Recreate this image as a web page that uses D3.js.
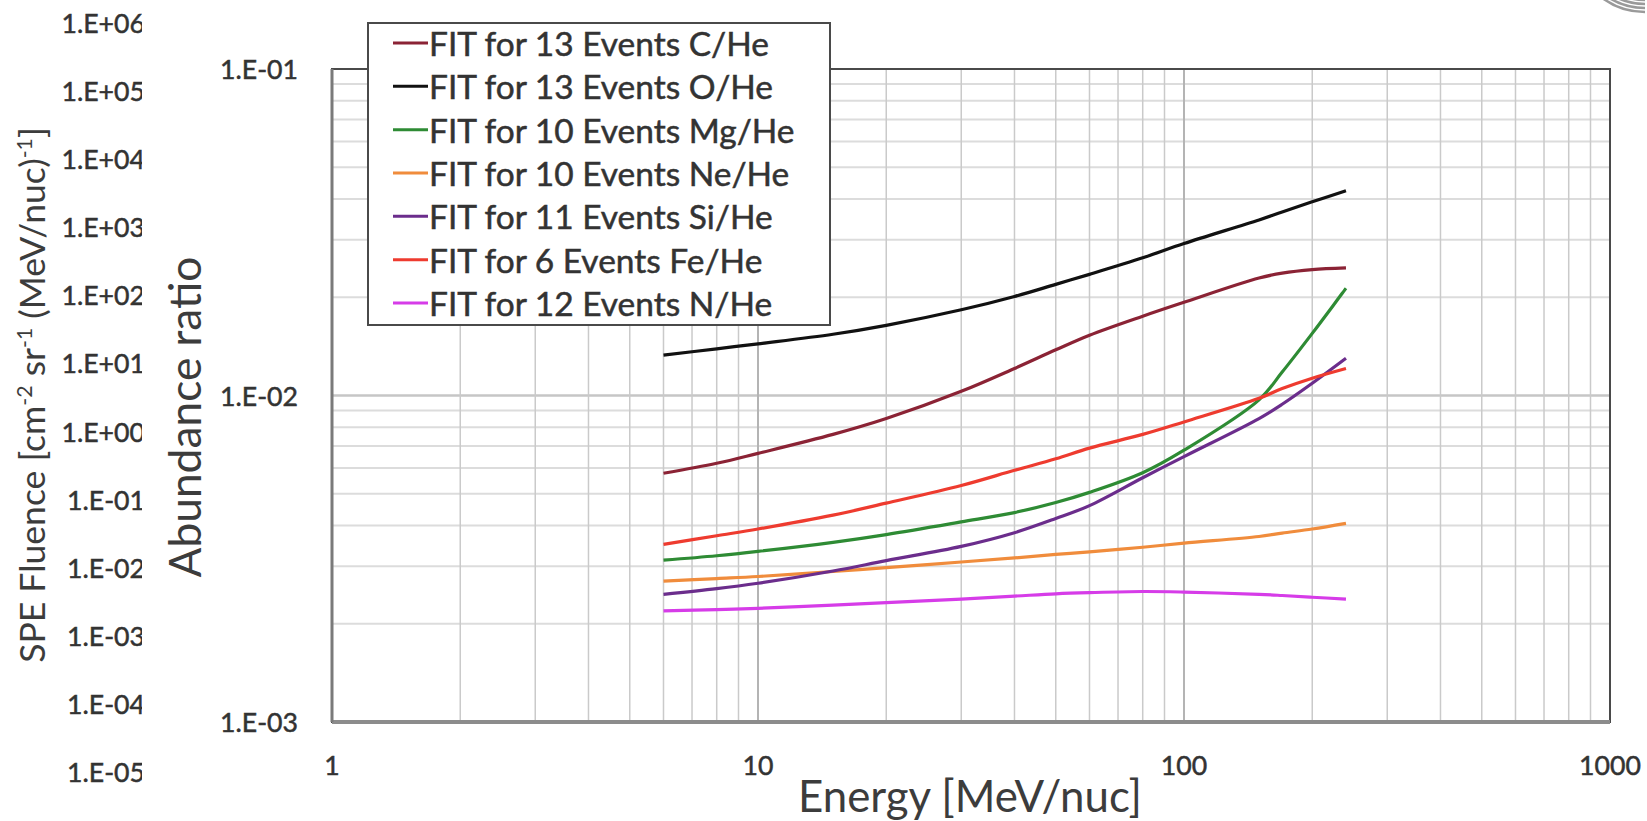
<!DOCTYPE html>
<html>
<head>
<meta charset="utf-8">
<script src="https://cdn.jsdelivr.net/npm/d3@7"></script>
<style>
  html, body { margin: 0; padding: 0; background: #fff; }
  svg { display: block; }
  text { font-family: Lato, "Open Sans", "Noto Sans", sans-serif; }
</style>
</head>
<body>
<svg id="chart" width="1647" height="821"></svg>
<script>
// Energy grid (MeV/nuc) shared by all fitted ratios
const energies = [6, 8, 10, 15, 20, 30, 40, 50, 60, 80, 100, 150, 170, 200, 240];

// Fitted abundance ratios relative to He
const cHe  = [0.00578, 0.0062, 0.00665, 0.0076, 0.0085, 0.0103, 0.0121, 0.0138, 0.0153, 0.0175, 0.0193, 0.0229, 0.0237, 0.0243, 0.0246];
const oHe  = [0.0133, 0.0139, 0.0144, 0.0154, 0.0164, 0.0183, 0.0201, 0.0219, 0.0235, 0.0264, 0.0292, 0.0345, 0.0365, 0.0392, 0.0424];
const mgHe = [0.00313, 0.00323, 0.00333, 0.00355, 0.00375, 0.0041, 0.00438, 0.0047, 0.00505, 0.0058, 0.0068, 0.0097, 0.0118, 0.0155, 0.0213];
const neHe = [0.0027, 0.00275, 0.00279, 0.00289, 0.00297, 0.00309, 0.00318, 0.00326, 0.00332, 0.00343, 0.00353, 0.0037, 0.00379, 0.0039, 0.00406];
const siHe = [0.00246, 0.00256, 0.00266, 0.0029, 0.00312, 0.00345, 0.0038, 0.0042, 0.0046, 0.0056, 0.0065, 0.0085, 0.0094, 0.0109, 0.0130];
const feHe = [0.0035, 0.00372, 0.0039, 0.0043, 0.00468, 0.0053, 0.0059, 0.0064, 0.0069, 0.0076, 0.0083, 0.0098, 0.0105, 0.0113, 0.0121];
const nHe  = [0.00219, 0.00221, 0.00223, 0.00228, 0.00232, 0.00238, 0.00243, 0.00247, 0.00249, 0.00251, 0.0025, 0.00246, 0.00244, 0.00241, 0.00238];

const seriesNames = [
  "FIT for 13 Events C/He",
  "FIT for 13 Events O/He",
  "FIT for 10 Events Mg/He",
  "FIT for 10 Events Ne/He",
  "FIT for 11 Events Si/He",
  "FIT for 6 Events Fe/He",
  "FIT for 12 Events N/He"
];
const seriesValues = [cHe, oHe, mgHe, neHe, siHe, feHe, nHe];
const seriesColors = ["#8b2335", "#111111", "#2e8b34", "#f08c3c", "#6b2d8c", "#ee3b2f", "#d63ce8"];

// Axis tick labels
const xTickValues = [1, 10, 100, 1000];
const xTickLabels = ["1", "10", "100", "1000"];
const yTickValues = [0.1, 0.01, 0.001];
const yTickLabels = ["1.E-01", "1.E-02", "1.E-03"];
// Fluence scale labels printed along the far left
const fluenceLabels = ["1.E+06", "1.E+05", "1.E+04", "1.E+03", "1.E+02", "1.E+01",
                       "1.E+00", "1.E-01", "1.E-02", "1.E-03", "1.E-04", "1.E-05"];

const svg = d3.select("#chart");
const plot = { left: 332, right: 1610, top: 69, bottom: 722 };

const x = d3.scaleLog().domain([1, 1000]).range([plot.left, plot.right]);
const y = d3.scaleLog().domain([0.001, 0.1]).range([plot.bottom, plot.top]);

// Scale a text element's font size so that it spans the given width
function fitWidth(sel, target) {
  const w = sel.node().getComputedTextLength();
  const fs = parseFloat(sel.attr("font-size"));
  const nfs = fs * target / w;
  sel.attr("font-size", nfs);
  return nfs;
}

// Gridlines
const grid = svg.append("g");
const minorX = [], majorX = [10, 100];
[1, 10, 100].forEach(d => { for (let k = 2; k <= 9; k++) minorX.push(d * k); });
const minorY = [], majorY = [0.01];
[0.001, 0.01].forEach(d => { for (let k = 2; k <= 9; k++) minorY.push(d * k); });

grid.selectAll(".hmin").data(minorY).join("line")
  .attr("x1", plot.left).attr("x2", plot.right)
  .attr("y1", d => y(d)).attr("y2", d => y(d))
  .attr("stroke", "#dcdcdc").attr("stroke-width", 2);
grid.selectAll(".hmaj").data(majorY).join("line")
  .attr("x1", plot.left).attr("x2", plot.right)
  .attr("y1", d => y(d)).attr("y2", d => y(d))
  .attr("stroke", "#c6c6c6").attr("stroke-width", 2.5);
grid.selectAll(".vmin").data(minorX).join("line")
  .attr("x1", d => x(d)).attr("x2", d => x(d))
  .attr("y1", plot.top).attr("y2", plot.bottom)
  .attr("stroke", "#cacaca").attr("stroke-width", 1.5);
grid.selectAll(".vmaj").data(majorX).join("line")
  .attr("x1", d => x(d)).attr("x2", d => x(d))
  .attr("y1", plot.top).attr("y2", plot.bottom)
  .attr("stroke", "#b4b4b4").attr("stroke-width", 2);

// Plot frame
svg.append("rect")
  .attr("x", plot.left).attr("y", plot.top)
  .attr("width", plot.right - plot.left).attr("height", plot.bottom - plot.top)
  .attr("fill", "none").attr("stroke", "#4a4a4a").attr("stroke-width", 2);
svg.append("line")
  .attr("x1", plot.left).attr("x2", plot.right)
  .attr("y1", plot.bottom).attr("y2", plot.bottom)
  .attr("stroke", "#8c8c8c").attr("stroke-width", 4);
svg.append("line")
  .attr("x1", plot.left).attr("x2", plot.left)
  .attr("y1", plot.top).attr("y2", plot.bottom)
  .attr("stroke", "#7a7a7a").attr("stroke-width", 3);

// Tick labels
const tickColor = "#333";
const probe = svg.append("text").attr("font-size", 28).text(yTickLabels[0]);
const tickFs = fitWidth(probe, 78);
probe.remove();

function heavy(sel, color) {
  return sel.attr("fill", color).attr("stroke", color).attr("stroke-width", 0.5);
}

heavy(svg.append("g").selectAll("text").data(yTickValues).join("text")
  .attr("x", 298).attr("y", d => y(d))
  .attr("text-anchor", "end").attr("dominant-baseline", "central")
  .attr("font-size", tickFs)
  .text((d, i) => yTickLabels[i]), tickColor);

heavy(svg.append("g").selectAll("text").data(xTickValues).join("text")
  .attr("x", d => x(d)).attr("y", 765)
  .attr("text-anchor", "middle").attr("dominant-baseline", "central")
  .attr("font-size", tickFs)
  .text((d, i) => xTickLabels[i]), tickColor);

// Fluence labels, clipped along their right edge
svg.append("clipPath").attr("id", "fluenceClip")
  .append("rect").attr("x", 0).attr("y", 0).attr("width", 142).attr("height", 821);
const fluence = d3.scaleLinear().domain([0, fluenceLabels.length - 1]).range([23, 772]);
heavy(svg.append("g").attr("clip-path", "url(#fluenceClip)")
  .selectAll("text").data(fluenceLabels).join("text")
  .attr("x", 145).attr("y", (d, i) => fluence(i))
  .attr("text-anchor", "end").attr("dominant-baseline", "central")
  .attr("font-size", tickFs)
  .text(d => d), tickColor);

// Axis titles
const titleColor = "#3c3c3c";
const xTitle = svg.append("text")
  .attr("x", 970).attr("y", 812)
  .attr("text-anchor", "middle").attr("font-size", 40).attr("fill", titleColor)
  .text("Energy [MeV/nuc]");
fitWidth(xTitle, 344);

const yTitle = svg.append("text")
  .attr("transform", "translate(201,417) rotate(-90)")
  .attr("text-anchor", "middle").attr("font-size", 40).attr("fill", titleColor)
  .text("Abundance ratio");
fitWidth(yTitle, 321);

const fTitle = svg.append("text")
  .attr("transform", "translate(45,395) rotate(-90)")
  .attr("text-anchor", "middle").attr("font-size", 26).attr("fill", titleColor);
fTitle.append("tspan").text("SPE Fluence [cm");
fTitle.append("tspan").attr("baseline-shift", "super").attr("font-size", "60%").text("-2");
fTitle.append("tspan").text(" sr");
fTitle.append("tspan").attr("baseline-shift", "super").attr("font-size", "60%").text("-1");
fTitle.append("tspan").text(" (MeV/nuc)");
fTitle.append("tspan").attr("baseline-shift", "super").attr("font-size", "60%").text("-1");
fTitle.append("tspan").text("]");
fitWidth(fTitle, 536);

// Fitted curves
const line = d3.line()
  .x(d => x(d[0]))
  .y(d => y(d[1]))
  .curve(d3.curveCatmullRom.alpha(0.5));

svg.append("g").selectAll("path").data(seriesValues).join("path")
  .attr("d", vals => line(energies.map((e, i) => [e, vals[i]])))
  .attr("fill", "none")
  .attr("stroke", (d, i) => seriesColors[i])
  .attr("stroke-width", 3.2)
  .attr("stroke-linejoin", "round");

// Legend
const legend = svg.append("g");
legend.append("rect")
  .attr("x", 368).attr("y", 23).attr("width", 462).attr("height", 302)
  .attr("fill", "#fff").attr("stroke", "#4a4a4a").attr("stroke-width", 2);
const rowY = d3.scaleLinear().domain([0, seriesNames.length - 1]).range([43, 303]);
const rows = legend.selectAll("g").data(seriesNames).join("g")
  .attr("transform", (d, i) => `translate(0,${rowY(i)})`);
rows.append("line")
  .attr("x1", 393).attr("x2", 428).attr("y1", 0).attr("y2", 0)
  .attr("stroke", (d, i) => seriesColors[i]).attr("stroke-width", 3);
const legendTexts = rows.append("text")
  .attr("x", 429).attr("y", 0).attr("dominant-baseline", "central")
  .attr("font-size", 28)
  .text(d => d);
heavy(legendTexts, "#333");
const legFs = fitWidth(d3.select(legendTexts.nodes()[0]), 340);
legendTexts.attr("font-size", legFs);

// Corner emblem strokes
const arc = d3.arc();
svg.append("g").attr("transform", "translate(1645,-60)")
  .selectAll("path").data([60, 64, 68, 72]).join("path")
  .attr("d", r => arc({ innerRadius: r - 1.3, outerRadius: r + 1.3, startAngle: Math.PI, endAngle: Math.PI * 1.22 }))
  .attr("fill", "#9a9a9a");
</script>
</body>
</html>
